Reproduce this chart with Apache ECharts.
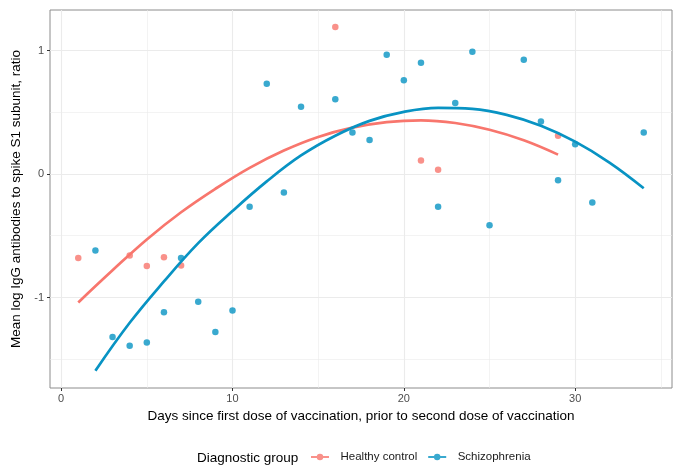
<!DOCTYPE html>
<html>
<head>
<meta charset="utf-8">
<script src="https://cdn.jsdelivr.net/npm/echarts@6/dist/echarts.min.js"></script>
<style>
html,body{margin:0;padding:0;background:#fff;}
#chart{width:678px;height:466px;}
</style>
</head>
<body>
<div id="chart"></div>
<script>
// ---- Data ----
const groupNames = ['Healthy control', 'Schizophrenia'];

const hcDays   = [1, 4, 5, 6, 7, 16, 21, 22, 29];
const hcValues = [-0.68, -0.66, -0.745, -0.675, -0.74, 1.19, 0.11, 0.035, 0.31];

const szDays   = [2, 3, 4, 5, 6, 7, 8, 9, 10, 11, 12, 13, 14, 16, 17, 18, 19, 20, 21, 22, 23, 24, 25, 27, 28, 29, 30, 31, 34];
const szValues = [-0.62, -1.32, -1.39, -1.365, -1.12, -0.68, -1.035, -1.28, -1.105, -0.265, 0.73, -0.15, 0.545,
                  0.605, 0.335, 0.275, 0.965, 0.76, 0.9, -0.265, 0.575, 0.99, -0.415, 0.925, 0.425, -0.05, 0.24, -0.23, 0.335];

// fitted trend curves
const hcFitDays   = [1, 3, 5, 7, 9, 11, 13, 15, 17, 19, 21, 23, 25, 27, 29];
const hcFitValues = [-1.04, -0.78, -0.53, -0.31, -0.12, 0.05, 0.19, 0.30, 0.375, 0.42, 0.435, 0.413, 0.358, 0.273, 0.157];

const szFitDays   = [2, 4, 6, 8, 10, 12, 14, 16, 18, 20, 22, 24, 26, 28, 30, 32, 34];
const szFitValues = [-1.593, -1.205, -0.87, -0.56, -0.30, -0.06, 0.15, 0.31, 0.43, 0.503, 0.535, 0.527, 0.479, 0.391, 0.262, 0.093, -0.115];

const xTickLabels = [0, 10, 20, 30];
const yTickLabels = [-1, 0, 1];
const xMajorGrid = [0, 10, 20, 30];
const xMinorGrid = [5, 15, 25, 35];
const yMajorGrid = [-1, 0, 1];
const yMinorGrid = [-1.5, -0.5, 0.5];

// ---- Styling ----
const colHC = '#F8766D';
const colSZ = '#0893C3';
const font = '"Liberation Sans", Arial, sans-serif';

function zip(xs, ys) { return xs.map((x, i) => [x, ys[i]]); }

const gridLines = []
  .concat(xMajorGrid.map(v => ({ xAxis: v, lineStyle: { width: 1.1 } })))
  .concat(xMinorGrid.map(v => ({ xAxis: v, lineStyle: { width: 0.6 } })))
  .concat(yMajorGrid.map(v => ({ yAxis: v, lineStyle: { width: 1.1 } })))
  .concat(yMinorGrid.map(v => ({ yAxis: v, lineStyle: { width: 0.6 } })));

const legendIcon = 'path://M0,2.9h6.6v2.2h-6.6z M13.4,2.9h6.6v2.2h-6.6z M10,0.4a3.6,3.6 0 1,1 -0.01,0z';

const chart = echarts.init(document.getElementById('chart'), null, { renderer: 'canvas' });
chart.setOption({
  animation: false,
  backgroundColor: '#ffffff',
  textStyle: { fontFamily: font },
  grid: {
    left: 50, right: 6, top: 10, bottom: 78,
    show: true, borderColor: '#8c8c8c', borderWidth: 1, backgroundColor: 'transparent',
    containLabel: false
  },
  xAxis: {
    type: 'value',
    min: -0.65, max: 35.65,
    name: 'Days since first dose of vaccination, prior to second dose of vaccination',
    nameLocation: 'middle',
    nameGap: 18,
    nameTextStyle: { color: '#000', fontSize: 13.5, fontFamily: font },
    axisLine: { show: false, onZero: false },
    axisTick: { show: true, customValues: xTickLabels, length: 3, lineStyle: { color: '#333', width: 1 } },
    axisLabel: { customValues: xTickLabels, color: '#4d4d4d', fontSize: 11, margin: 5, fontFamily: font },
    splitLine: { show: false }
  },
  yAxis: {
    type: 'value',
    min: -1.733, max: 1.328,
    name: 'Mean log IgG antibodies to spike S1 subunit, ratio',
    nameLocation: 'middle',
    nameRotate: 90,
    nameGap: 21,
    nameTextStyle: { color: '#000', fontSize: 13.5, fontFamily: font },
    axisLine: { show: false, onZero: false },
    axisTick: { show: true, customValues: yTickLabels, length: 3, lineStyle: { color: '#333', width: 1 } },
    axisLabel: { customValues: yTickLabels, color: '#4d4d4d', fontSize: 11, margin: 6, fontFamily: font },
    splitLine: { show: false }
  },
  legend: {
    data: groupNames.map(n => ({ name: n, icon: legendIcon })),
    orient: 'horizontal',
    left: 311, top: 451, padding: 0,
    itemWidth: 18, itemHeight: 8,
    itemGap: 11,
    textStyle: { color: '#1a1a1a', fontSize: 11.5, fontFamily: font, padding: [0, 0, 0, 6.5] },
    selectedMode: false
  },
  graphic: [{
    type: 'text',
    left: 197, top: 451,
    style: { text: 'Diagnostic group', fill: '#000', font: '13.5px ' + font }
  }],
  series: [
    {
      name: 'grid', type: 'line', data: [], z: 0, silent: true,
      markLine: {
        silent: true, z: 0, symbol: ['none', 'none'], label: { show: false },
        lineStyle: { color: '#ebebeb', type: 'solid', width: 1 },
        data: gridLines
      }
    },
    {
      name: groupNames[0], type: 'scatter', z: 3,
      data: zip(hcDays, hcValues),
      symbolSize: 6.5, itemStyle: { color: colHC }
    },
    {
      name: groupNames[1], type: 'scatter', z: 3,
      data: zip(szDays, szValues),
      symbolSize: 6.5, itemStyle: { color: colSZ }
    },
    {
      name: groupNames[0], type: 'line', z: 4,
      data: zip(hcFitDays, hcFitValues),
      smooth: 0.4, showSymbol: false, symbol: 'none',
      lineStyle: { color: colHC, width: 2.7 }, itemStyle: { color: colHC }
    },
    {
      name: groupNames[1], type: 'line', z: 4,
      data: zip(szFitDays, szFitValues),
      smooth: 0.4, showSymbol: false, symbol: 'none',
      lineStyle: { color: colSZ, width: 2.7 }, itemStyle: { color: colSZ }
    }
  ]
});
</script>
</body>
</html>
